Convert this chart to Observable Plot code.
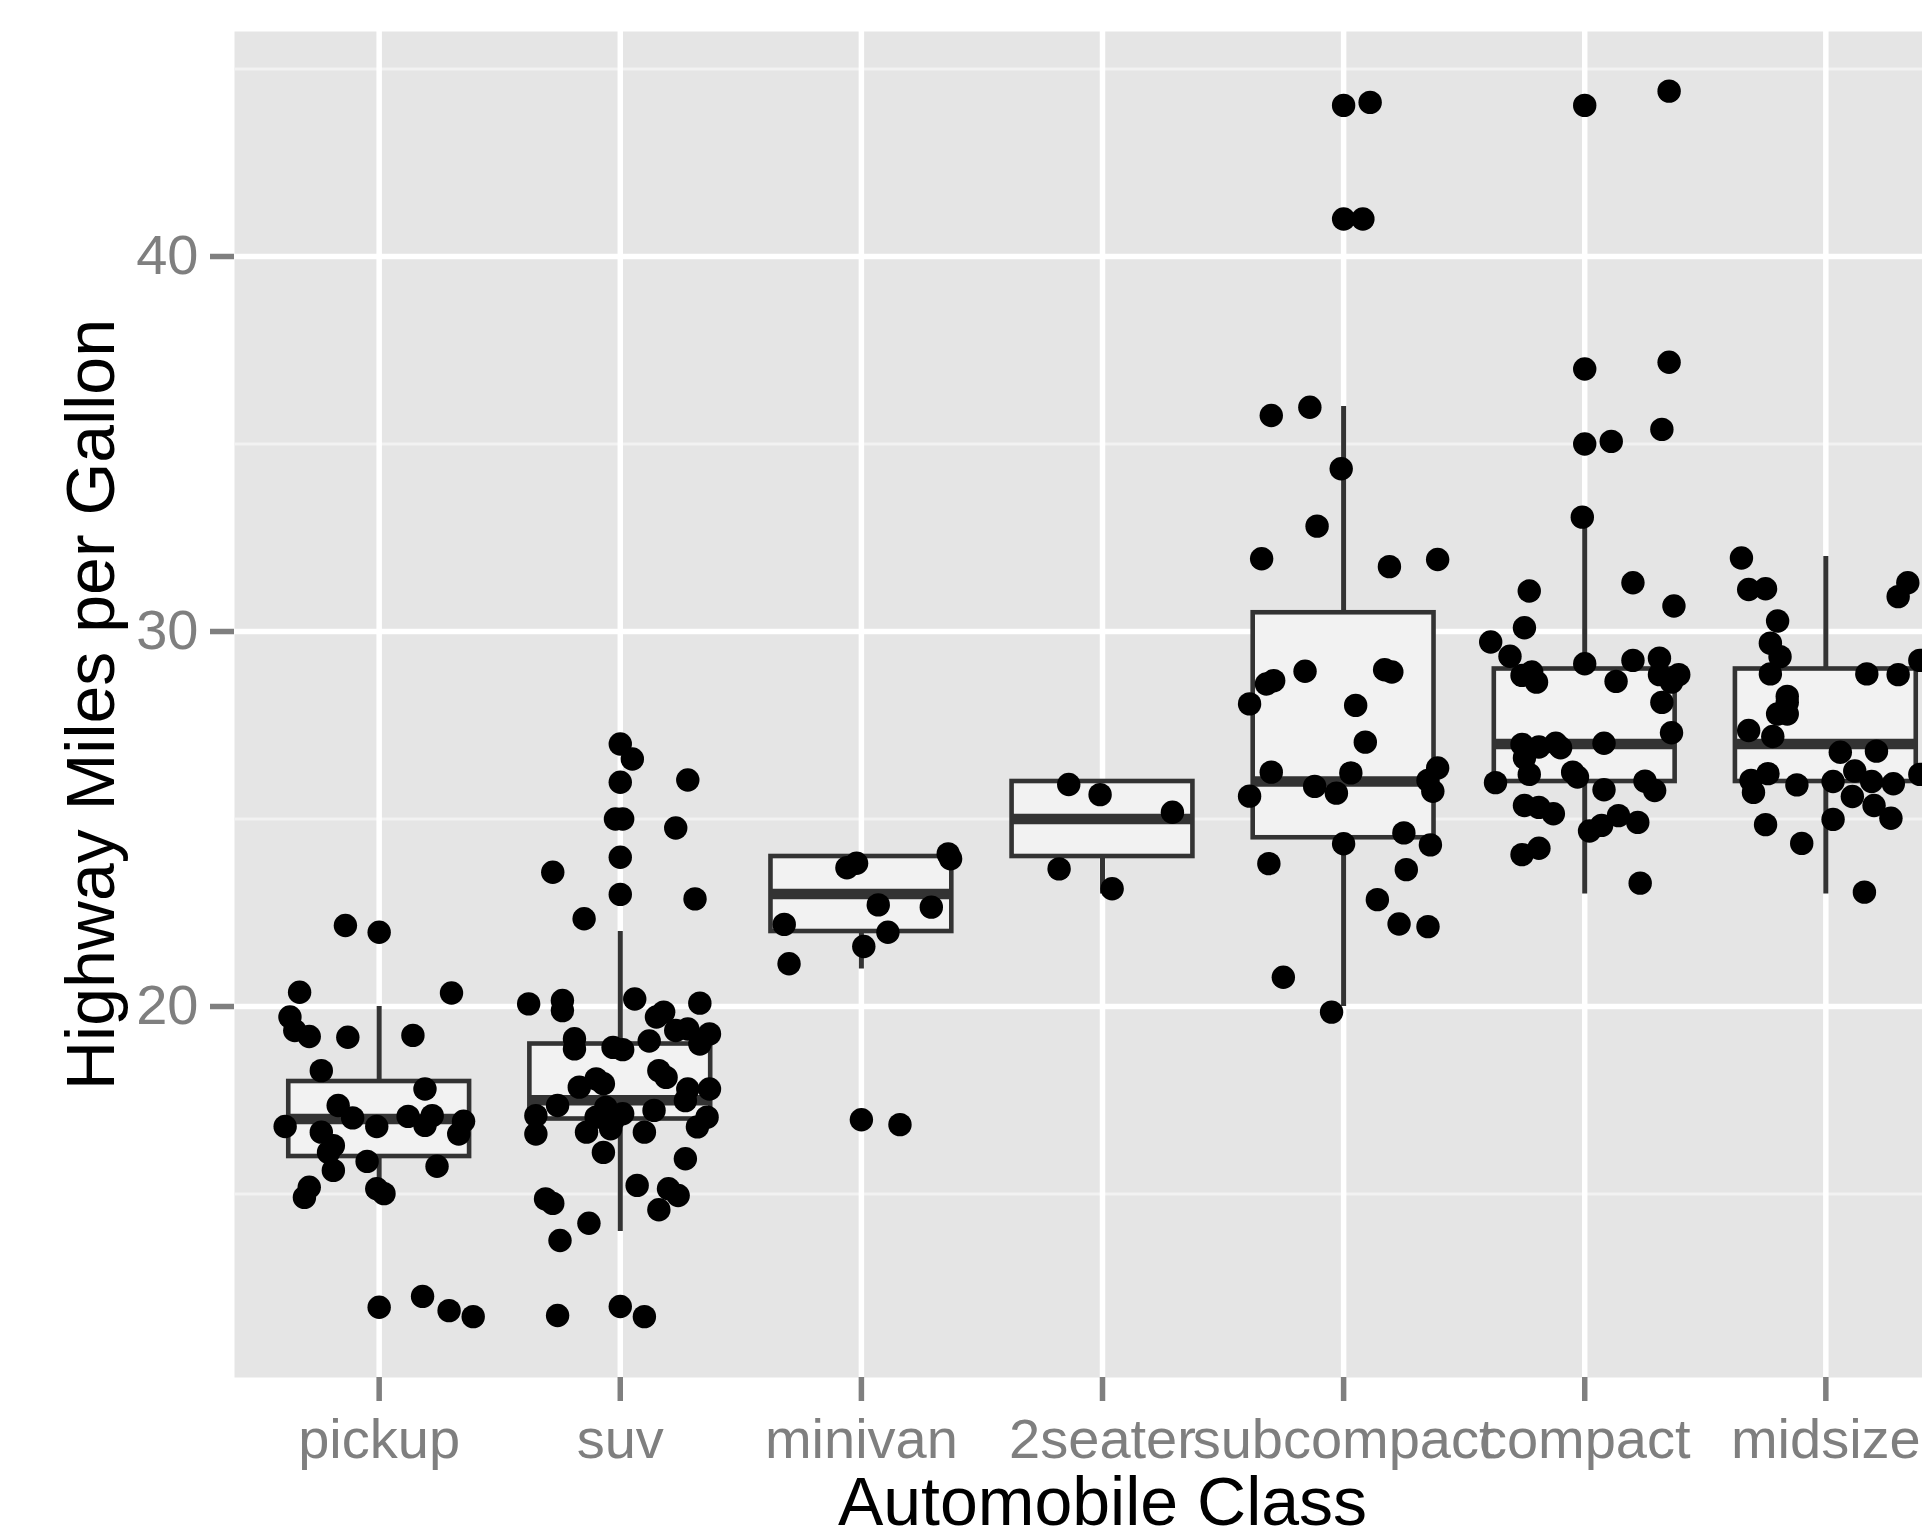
<!DOCTYPE html>
<html><head><meta charset="utf-8">
<script src="https://cdn.jsdelivr.net/npm/d3@7"></script>
<script src="https://cdn.jsdelivr.net/npm/@observablehq/plot@0.6"></script>
<style>
body{margin:0;background:#fff}
#wrap{width:1922px;height:1537px;overflow:hidden;position:relative}
#wrap svg{overflow:hidden}
</style>
</head><body><div id="wrap"></div>
<script>
// Categories (ordered by median highway mpg)
const classes = ["pickup","suv","minivan","2seater","subcompact","compact","midsize"];
// Box statistics (hwy)
const q1        = [16, 17,   22, 24, 24.5, 26, 26];
const median    = [17, 17.5, 23, 25, 26,   27, 27];
const q3        = [18, 19,   24, 26, 30.5, 29, 29];
const whiskerLo = [15, 14,   21, 23, 20,   23, 23];
const whiskerHi = [20, 22,   24, 26, 36,   33, 32];
// Jittered points: [horizontal jitter (class units), hwy]
const pickupPts = [[-0.14,22.16],[0.0,21.98],[-0.33,20.38],[0.30,20.36],[-0.37,19.72],[-0.35,19.36],[-0.29,19.2],[-0.13,19.18],[0.14,19.23],[-0.24,18.29],[0.19,17.8],[-0.17,17.36],[-0.11,17.03],[-0.39,16.8],[-0.01,16.8],[0.12,17.07],[0.22,17.09],[0.19,16.83],[0.35,16.94],[0.33,16.6],[-0.24,16.65],[-0.19,16.29],[-0.21,16.11],[-0.05,15.87],[0.24,15.74],[-0.19,15.63],[-0.29,15.18],[-0.31,14.91],[-0.01,15.14],[0.02,15.01],[0.0,11.98],[0.18,12.27],[0.29,11.89],[0.39,11.73]];
const suvPts = [[0,27.0],[0.05,26.6],[0,25.98],[0.28,26.04],[-0.02,25.0],[0.01,25.0],[0.23,24.76],[0,23.98],[-0.28,23.58],[0,22.99],[0.31,22.87],[-0.15,22.34],[-0.38,20.07],[-0.24,20.16],[0.06,20.2],[0.33,20.09],[-0.24,19.89],[0.18,19.85],[0.15,19.72],[0.23,19.36],[0.28,19.4],[0.37,19.27],[0.33,19.0],[-0.19,19.14],[-0.19,18.87],[-0.03,18.91],[0.01,18.85],[0.12,19.08],[0.16,18.29],[0.19,18.11],[-0.10,18.07],[-0.07,17.94],[-0.17,17.85],[0.28,17.8],[0.37,17.8],[0.27,17.49],[-0.26,17.36],[-0.35,17.09],[-0.35,16.6],[-0.06,17.31],[0.01,17.14],[0.14,17.23],[-0.10,17.05],[-0.03,16.96],[-0.14,16.65],[-0.04,16.74],[0.10,16.65],[0.36,17.05],[0.32,16.79],[-0.07,16.11],[0.27,15.94],[0.07,15.23],[0.2,15.14],[0.24,14.96],[0.16,14.58],[-0.31,14.87],[-0.28,14.75],[-0.13,14.22],[-0.25,13.76],[-0.26,11.76],[0,12.0],[0.10,11.73]];
const minivanPts = [[-0.06,23.7],[-0.02,23.82],[0.36,24.07],[0.37,23.94],[0.07,22.71],[0.29,22.65],[-0.32,22.19],[0.11,21.98],[0.01,21.6],[-0.30,21.14],[0,16.98],[0.16,16.85]];
const twoseaterPts = [[-0.14,25.92],[-0.01,25.65],[0.29,25.18],[-0.18,23.67],[0.04,23.14]];
const subcompactPts = [[0,44.03],[0.11,44.11],[0,41.0],[0.08,41.0],[-0.30,35.76],[-0.14,35.98],[-0.01,34.34],[-0.11,32.81],[-0.34,31.94],[0.19,31.73],[0.39,31.92],[-0.16,28.94],[-0.32,28.6],[-0.29,28.69],[-0.39,28.07],[0.17,28.98],[0.20,28.92],[0.05,28.03],[0.09,27.05],[-0.30,26.25],[0.03,26.23],[0.39,26.36],[0.35,26.03],[0.37,25.74],[-0.39,25.61],[-0.12,25.87],[-0.03,25.69],[0.25,24.63],[0,24.34],[0.36,24.31],[-0.31,23.81],[0.26,23.65],[0.14,22.85],[0.23,22.2],[0.35,22.13],[-0.25,20.78],[-0.05,19.85]];
const compactPts = [[0,44.03],[0.35,44.41],[0,37.0],[0.35,37.18],[0,35.0],[0.11,35.07],[0.32,35.39],[-0.01,33.05],[-0.23,31.08],[0.20,31.3],[0.37,30.68],[-0.25,30.1],[-0.39,29.72],[-0.31,29.34],[0,29.14],[0.2,29.23],[0.31,29.29],[-0.26,28.83],[-0.22,28.92],[-0.20,28.65],[0.13,28.67],[0.31,28.85],[0.39,28.85],[0.36,28.65],[0.32,28.11],[0.36,27.3],[-0.26,26.99],[-0.19,26.92],[-0.12,27.02],[-0.10,26.9],[0.08,27.02],[-0.25,26.63],[-0.23,26.19],[-0.37,25.97],[-0.05,26.25],[-0.03,26.12],[0.08,25.78],[0.25,26.01],[0.29,25.76],[-0.25,25.36],[-0.19,25.31],[-0.13,25.14],[0.14,25.09],[0.07,24.83],[0.02,24.68],[0.22,24.91],[-0.26,24.05],[-0.19,24.22],[0.23,23.29]];
const midsizePts = [[-0.35,31.96],[-0.32,31.12],[-0.25,31.14],[-0.20,30.28],[-0.23,29.69],[-0.19,29.33],[-0.23,28.87],[0.34,31.3],[0.30,30.93],[0.39,29.23],[0.17,28.87],[0.30,28.85],[-0.16,28.27],[-0.16,28.11],[-0.20,27.8],[-0.16,27.8],[-0.32,27.36],[-0.22,27.2],[0.06,26.78],[0.21,26.81],[-0.31,26.03],[-0.24,26.21],[-0.30,25.71],[-0.12,25.91],[0.03,26.0],[0.12,26.28],[0.19,26.0],[0.28,25.94],[0.39,26.19],[0.11,25.6],[0.20,25.36],[0.27,25.02],[0.03,24.99],[-0.25,24.85],[-0.10,24.35],[0.16,23.05]];
const yMajorTicks = [20, 30, 40];
const yMinorTicks = [15, 25, 35, 45];
const xTitle = "Automobile Class";
const yTitle = "Highway Miles per Gallon";

const ptsByClass = [pickupPts, suvPts, minivanPts, twoseaterPts, subcompactPts, compactPts, midsizePts];
const positions = classes.map((c, i) => i + 1);
const boxes = classes.map((c, i) => ({pos: i + 1, q1: q1[i], med: median[i], q3: q3[i], lo: whiskerLo[i], hi: whiskerHi[i]}));
const points = classes.flatMap((c, i) => ptsByClass[i].map(([dx, v]) => ({pos: i + 1 + dx, hwy: v})));
const halfBox = 0.375;

const font = "'Liberation Sans', Arial, Helvetica, sans-serif";
const chart = Plot.plot({
  width: 1922, height: 1537,
  marginLeft: 234, marginTop: 31, marginBottom: 160, marginRight: -48,
  x: {domain: [0.4, 7.6]},
  y: {domain: [10.107, 46.0]},
  style: {fontFamily: font, fontSize: "56px", color: "#7F7F7F", background: "white", overflow: "hidden"},
  marks: [
    Plot.frame({fill: "#E5E5E5", stroke: "none"}),
    Plot.ruleY(yMinorTicks, {stroke: "#F2F2F2", strokeWidth: 2.8}),
    Plot.ruleY(yMajorTicks, {stroke: "white", strokeWidth: 5.5}),
    Plot.ruleX(positions, {stroke: "white", strokeWidth: 5.5}),
    Plot.ruleX(boxes, {x: "pos", y1: "q3", y2: "hi", stroke: "#333333", strokeWidth: 5}),
    Plot.ruleX(boxes, {x: "pos", y1: "lo", y2: "q1", stroke: "#333333", strokeWidth: 5}),
    Plot.rect(boxes, {x1: d => d.pos - halfBox, x2: d => d.pos + halfBox, y1: "q1", y2: "q3", fill: "#F2F2F2", stroke: "#333333", strokeWidth: 4.6}),
    Plot.ruleY(boxes, {y: "med", x1: d => d.pos - halfBox, x2: d => d.pos + halfBox, stroke: "#333333", strokeWidth: 10.5}),
    Plot.dot(points, {x: "pos", y: "hwy", r: 11.7, fill: "black", stroke: "none"}),
    Plot.axisX(positions, {tickFormat: i => classes[i - 1], tickSize: 24, tickPadding: 17, strokeWidth: 5.5, stroke: "#7F7F7F", fill: "#7F7F7F", fontSize: 56, label: null}),
    Plot.axisY(yMajorTicks, {tickSize: 24, tickPadding: 12, strokeWidth: 5.5, stroke: "#7F7F7F", fill: "#7F7F7F", fontSize: 56, label: null}),
    Plot.text([xTitle], {frameAnchor: "bottom", lineAnchor: "bottom", dy: 147, fontSize: 68, fill: "black"}),
    Plot.text([yTitle], {frameAnchor: "left", textAnchor: "middle", lineAnchor: "bottom", rotate: -90, dx: -121, fontSize: 68, fill: "black"})
  ]
});
document.getElementById("wrap").appendChild(chart);
</script>
</body></html>
